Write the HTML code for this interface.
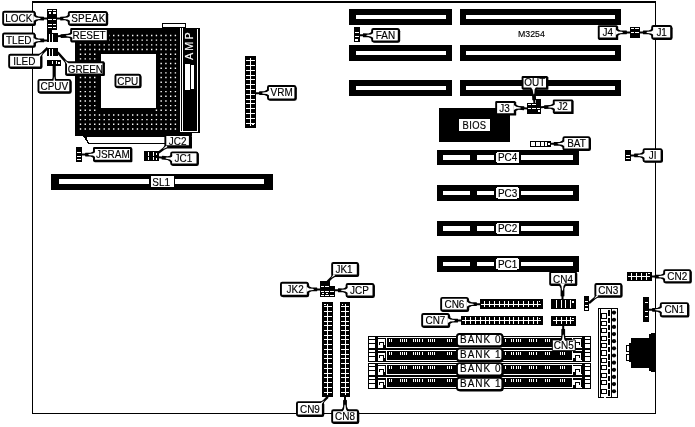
<!DOCTYPE html>
<html lang="en"><head><meta charset="utf-8"><title>M3254 motherboard layout</title>
<style>html,body{margin:0;padding:0;background:#fff}svg{display:block}text{font-family:"Liberation Sans",Arial,Helvetica,sans-serif;stroke:#000;stroke-width:0.15px}</style></head><body>
<svg width="695" height="427" viewBox="0 0 695 427" style="will-change:transform;filter:grayscale(1)">
<rect x="0" y="0" width="695" height="427" fill="#fff"/>
<g shape-rendering="crispEdges">
<rect x="32" y="1" width="624" height="2" fill="#000"/>
<rect x="32" y="1" width="1" height="413" fill="#000"/>
<rect x="655" y="1" width="1" height="413" fill="#000"/>
<rect x="32" y="413" width="624" height="1" fill="#000"/>
<rect x="349" y="9" width="103" height="16" fill="#000"/>
<rect x="356" y="15" width="90" height="4" fill="#fff"/>
<rect x="460" y="9" width="161" height="16" fill="#000"/>
<rect x="466" y="15" width="149" height="4" fill="#fff"/>
<rect x="349" y="45" width="103" height="16" fill="#000"/>
<rect x="356" y="51" width="90" height="4" fill="#fff"/>
<rect x="460" y="45" width="161" height="16" fill="#000"/>
<rect x="466" y="51" width="149" height="4" fill="#fff"/>
<rect x="349" y="80" width="103" height="16" fill="#000"/>
<rect x="356" y="86" width="90" height="4" fill="#fff"/>
<rect x="460" y="80" width="161" height="16" fill="#000"/>
<rect x="466" y="86" width="149" height="4" fill="#fff"/>
<rect x="437" y="150" width="142" height="15" fill="#000"/>
<rect x="443" y="155" width="27" height="5" fill="#fff"/>
<rect x="477" y="155" width="96" height="5" fill="#fff"/>
<rect x="494" y="151" width="27" height="13" fill="#000"/>
<rect x="496.3" y="151.8" width="22.6" height="11.2" rx="1.5" fill="#fff"/>
<rect x="437" y="185" width="142" height="16" fill="#000"/>
<rect x="443" y="191" width="27" height="4" fill="#fff"/>
<rect x="477" y="191" width="96" height="4" fill="#fff"/>
<rect x="494" y="186" width="27" height="14" fill="#000"/>
<rect x="496.3" y="187.3" width="22.6" height="11.2" rx="1.5" fill="#fff"/>
<rect x="437" y="221" width="142" height="15" fill="#000"/>
<rect x="443" y="226" width="27" height="5" fill="#fff"/>
<rect x="477" y="226" width="96" height="5" fill="#fff"/>
<rect x="494" y="222" width="27" height="13" fill="#000"/>
<rect x="496.3" y="222.8" width="22.6" height="11.2" rx="1.5" fill="#fff"/>
<rect x="437" y="256" width="142" height="16" fill="#000"/>
<rect x="443" y="262" width="27" height="4" fill="#fff"/>
<rect x="477" y="262" width="96" height="4" fill="#fff"/>
<rect x="494" y="258" width="27" height="12" fill="#000"/>
<rect x="496.3" y="258.3" width="22.6" height="11.2" rx="1.5" fill="#fff"/>
<rect x="51" y="174" width="222" height="16" fill="#000"/>
<rect x="59" y="179" width="205" height="5" fill="#fff"/>
<rect x="149" y="176" width="26" height="12" fill="#000"/>
<rect x="151" y="176" width="23" height="11" fill="#fff"/>
<rect x="439" y="108" width="71" height="34" fill="#000"/>
<rect x="459" y="119" width="31" height="12" fill="#fff"/>
<rect x="75" y="28" width="105" height="108" fill="#000"/>
<rect x="179" y="28" width="21" height="105" fill="#000"/>
<rect x="179" y="132" width="13" height="4" fill="#000"/>
<rect x="101" y="54" width="55" height="54" fill="#fff"/>
</g>
<path d="M79.8 34.8h1.4v1.4h-1.4zM79.8 39.47h1.4v1.4h-1.4zM79.8 44.15h1.4v1.4h-1.4zM79.8 48.82h1.4v1.4h-1.4zM79.8 53.5h1.4v1.4h-1.4zM79.8 58.17h1.4v1.4h-1.4zM79.8 62.85h1.4v1.4h-1.4zM79.8 67.52h1.4v1.4h-1.4zM79.8 72.2h1.4v1.4h-1.4zM79.8 76.87h1.4v1.4h-1.4zM79.8 81.55h1.4v1.4h-1.4zM79.8 86.22h1.4v1.4h-1.4zM79.8 90.9h1.4v1.4h-1.4zM79.8 95.58h1.4v1.4h-1.4zM79.8 100.25h1.4v1.4h-1.4zM79.8 104.92h1.4v1.4h-1.4zM79.8 109.6h1.4v1.4h-1.4zM79.8 114.27h1.4v1.4h-1.4zM79.8 118.95h1.4v1.4h-1.4zM79.8 123.62h1.4v1.4h-1.4zM79.8 128.3h1.4v1.4h-1.4zM84.55 34.8h1.4v1.4h-1.4zM84.55 39.47h1.4v1.4h-1.4zM84.55 44.15h1.4v1.4h-1.4zM84.55 48.82h1.4v1.4h-1.4zM84.55 53.5h1.4v1.4h-1.4zM84.55 58.17h1.4v1.4h-1.4zM84.55 62.85h1.4v1.4h-1.4zM84.55 67.52h1.4v1.4h-1.4zM84.55 72.2h1.4v1.4h-1.4zM84.55 76.87h1.4v1.4h-1.4zM84.55 81.55h1.4v1.4h-1.4zM84.55 86.22h1.4v1.4h-1.4zM84.55 90.9h1.4v1.4h-1.4zM84.55 95.58h1.4v1.4h-1.4zM84.55 100.25h1.4v1.4h-1.4zM84.55 104.92h1.4v1.4h-1.4zM84.55 109.6h1.4v1.4h-1.4zM84.55 114.27h1.4v1.4h-1.4zM84.55 118.95h1.4v1.4h-1.4zM84.55 123.62h1.4v1.4h-1.4zM84.55 128.3h1.4v1.4h-1.4zM89.29 34.8h1.4v1.4h-1.4zM89.29 39.47h1.4v1.4h-1.4zM89.29 44.15h1.4v1.4h-1.4zM89.29 48.82h1.4v1.4h-1.4zM89.29 53.5h1.4v1.4h-1.4zM89.29 58.17h1.4v1.4h-1.4zM89.29 62.85h1.4v1.4h-1.4zM89.29 67.52h1.4v1.4h-1.4zM89.29 72.2h1.4v1.4h-1.4zM89.29 76.87h1.4v1.4h-1.4zM89.29 81.55h1.4v1.4h-1.4zM89.29 86.22h1.4v1.4h-1.4zM89.29 90.9h1.4v1.4h-1.4zM89.29 95.58h1.4v1.4h-1.4zM89.29 100.25h1.4v1.4h-1.4zM89.29 104.92h1.4v1.4h-1.4zM89.29 109.6h1.4v1.4h-1.4zM89.29 114.27h1.4v1.4h-1.4zM89.29 118.95h1.4v1.4h-1.4zM89.29 123.62h1.4v1.4h-1.4zM89.29 128.3h1.4v1.4h-1.4zM94.03 34.8h1.4v1.4h-1.4zM94.03 39.47h1.4v1.4h-1.4zM94.03 44.15h1.4v1.4h-1.4zM94.03 48.82h1.4v1.4h-1.4zM94.03 53.5h1.4v1.4h-1.4zM94.03 58.17h1.4v1.4h-1.4zM94.03 62.85h1.4v1.4h-1.4zM94.03 67.52h1.4v1.4h-1.4zM94.03 72.2h1.4v1.4h-1.4zM94.03 76.87h1.4v1.4h-1.4zM94.03 81.55h1.4v1.4h-1.4zM94.03 86.22h1.4v1.4h-1.4zM94.03 90.9h1.4v1.4h-1.4zM94.03 95.58h1.4v1.4h-1.4zM94.03 100.25h1.4v1.4h-1.4zM94.03 104.92h1.4v1.4h-1.4zM94.03 109.6h1.4v1.4h-1.4zM94.03 114.27h1.4v1.4h-1.4zM94.03 118.95h1.4v1.4h-1.4zM94.03 123.62h1.4v1.4h-1.4zM94.03 128.3h1.4v1.4h-1.4zM98.78 34.8h1.4v1.4h-1.4zM98.78 39.47h1.4v1.4h-1.4zM98.78 44.15h1.4v1.4h-1.4zM98.78 48.82h1.4v1.4h-1.4zM98.78 114.27h1.4v1.4h-1.4zM98.78 118.95h1.4v1.4h-1.4zM98.78 123.62h1.4v1.4h-1.4zM98.78 128.3h1.4v1.4h-1.4zM103.52 34.8h1.4v1.4h-1.4zM103.52 39.47h1.4v1.4h-1.4zM103.52 44.15h1.4v1.4h-1.4zM103.52 48.82h1.4v1.4h-1.4zM103.52 114.27h1.4v1.4h-1.4zM103.52 118.95h1.4v1.4h-1.4zM103.52 123.62h1.4v1.4h-1.4zM103.52 128.3h1.4v1.4h-1.4zM108.27 34.8h1.4v1.4h-1.4zM108.27 39.47h1.4v1.4h-1.4zM108.27 44.15h1.4v1.4h-1.4zM108.27 48.82h1.4v1.4h-1.4zM108.27 114.27h1.4v1.4h-1.4zM108.27 118.95h1.4v1.4h-1.4zM108.27 123.62h1.4v1.4h-1.4zM108.27 128.3h1.4v1.4h-1.4zM113.02 34.8h1.4v1.4h-1.4zM113.02 39.47h1.4v1.4h-1.4zM113.02 44.15h1.4v1.4h-1.4zM113.02 48.82h1.4v1.4h-1.4zM113.02 114.27h1.4v1.4h-1.4zM113.02 118.95h1.4v1.4h-1.4zM113.02 123.62h1.4v1.4h-1.4zM113.02 128.3h1.4v1.4h-1.4zM117.76 34.8h1.4v1.4h-1.4zM117.76 39.47h1.4v1.4h-1.4zM117.76 44.15h1.4v1.4h-1.4zM117.76 48.82h1.4v1.4h-1.4zM117.76 114.27h1.4v1.4h-1.4zM117.76 118.95h1.4v1.4h-1.4zM117.76 123.62h1.4v1.4h-1.4zM117.76 128.3h1.4v1.4h-1.4zM122.5 34.8h1.4v1.4h-1.4zM122.5 39.47h1.4v1.4h-1.4zM122.5 44.15h1.4v1.4h-1.4zM122.5 48.82h1.4v1.4h-1.4zM122.5 114.27h1.4v1.4h-1.4zM122.5 118.95h1.4v1.4h-1.4zM122.5 123.62h1.4v1.4h-1.4zM122.5 128.3h1.4v1.4h-1.4zM127.25 34.8h1.4v1.4h-1.4zM127.25 39.47h1.4v1.4h-1.4zM127.25 44.15h1.4v1.4h-1.4zM127.25 48.82h1.4v1.4h-1.4zM127.25 114.27h1.4v1.4h-1.4zM127.25 118.95h1.4v1.4h-1.4zM127.25 123.62h1.4v1.4h-1.4zM127.25 128.3h1.4v1.4h-1.4zM132 34.8h1.4v1.4h-1.4zM132 39.47h1.4v1.4h-1.4zM132 44.15h1.4v1.4h-1.4zM132 48.82h1.4v1.4h-1.4zM132 114.27h1.4v1.4h-1.4zM132 118.95h1.4v1.4h-1.4zM132 123.62h1.4v1.4h-1.4zM132 128.3h1.4v1.4h-1.4zM136.74 34.8h1.4v1.4h-1.4zM136.74 39.47h1.4v1.4h-1.4zM136.74 44.15h1.4v1.4h-1.4zM136.74 48.82h1.4v1.4h-1.4zM136.74 114.27h1.4v1.4h-1.4zM136.74 118.95h1.4v1.4h-1.4zM136.74 123.62h1.4v1.4h-1.4zM136.74 128.3h1.4v1.4h-1.4zM141.49 34.8h1.4v1.4h-1.4zM141.49 39.47h1.4v1.4h-1.4zM141.49 44.15h1.4v1.4h-1.4zM141.49 48.82h1.4v1.4h-1.4zM141.49 114.27h1.4v1.4h-1.4zM141.49 118.95h1.4v1.4h-1.4zM141.49 123.62h1.4v1.4h-1.4zM141.49 128.3h1.4v1.4h-1.4zM146.23 34.8h1.4v1.4h-1.4zM146.23 39.47h1.4v1.4h-1.4zM146.23 44.15h1.4v1.4h-1.4zM146.23 48.82h1.4v1.4h-1.4zM146.23 114.27h1.4v1.4h-1.4zM146.23 118.95h1.4v1.4h-1.4zM146.23 123.62h1.4v1.4h-1.4zM146.23 128.3h1.4v1.4h-1.4zM150.98 34.8h1.4v1.4h-1.4zM150.98 39.47h1.4v1.4h-1.4zM150.98 44.15h1.4v1.4h-1.4zM150.98 48.82h1.4v1.4h-1.4zM150.98 114.27h1.4v1.4h-1.4zM150.98 118.95h1.4v1.4h-1.4zM150.98 123.62h1.4v1.4h-1.4zM150.98 128.3h1.4v1.4h-1.4zM155.72 34.8h1.4v1.4h-1.4zM155.72 39.47h1.4v1.4h-1.4zM155.72 44.15h1.4v1.4h-1.4zM155.72 48.82h1.4v1.4h-1.4zM155.72 109.6h1.4v1.4h-1.4zM155.72 114.27h1.4v1.4h-1.4zM155.72 118.95h1.4v1.4h-1.4zM155.72 123.62h1.4v1.4h-1.4zM155.72 128.3h1.4v1.4h-1.4zM160.47 34.8h1.4v1.4h-1.4zM160.47 39.47h1.4v1.4h-1.4zM160.47 44.15h1.4v1.4h-1.4zM160.47 48.82h1.4v1.4h-1.4zM160.47 53.5h1.4v1.4h-1.4zM160.47 58.17h1.4v1.4h-1.4zM160.47 62.85h1.4v1.4h-1.4zM160.47 67.52h1.4v1.4h-1.4zM160.47 72.2h1.4v1.4h-1.4zM160.47 76.87h1.4v1.4h-1.4zM160.47 81.55h1.4v1.4h-1.4zM160.47 86.22h1.4v1.4h-1.4zM160.47 90.9h1.4v1.4h-1.4zM160.47 95.58h1.4v1.4h-1.4zM160.47 100.25h1.4v1.4h-1.4zM160.47 104.92h1.4v1.4h-1.4zM160.47 109.6h1.4v1.4h-1.4zM160.47 114.27h1.4v1.4h-1.4zM160.47 118.95h1.4v1.4h-1.4zM160.47 123.62h1.4v1.4h-1.4zM160.47 128.3h1.4v1.4h-1.4zM165.21 34.8h1.4v1.4h-1.4zM165.21 39.47h1.4v1.4h-1.4zM165.21 44.15h1.4v1.4h-1.4zM165.21 48.82h1.4v1.4h-1.4zM165.21 53.5h1.4v1.4h-1.4zM165.21 58.17h1.4v1.4h-1.4zM165.21 62.85h1.4v1.4h-1.4zM165.21 67.52h1.4v1.4h-1.4zM165.21 72.2h1.4v1.4h-1.4zM165.21 76.87h1.4v1.4h-1.4zM165.21 81.55h1.4v1.4h-1.4zM165.21 86.22h1.4v1.4h-1.4zM165.21 90.9h1.4v1.4h-1.4zM165.21 95.58h1.4v1.4h-1.4zM165.21 100.25h1.4v1.4h-1.4zM165.21 104.92h1.4v1.4h-1.4zM165.21 109.6h1.4v1.4h-1.4zM165.21 114.27h1.4v1.4h-1.4zM165.21 118.95h1.4v1.4h-1.4zM165.21 123.62h1.4v1.4h-1.4zM165.21 128.3h1.4v1.4h-1.4zM169.96 34.8h1.4v1.4h-1.4zM169.96 39.47h1.4v1.4h-1.4zM169.96 44.15h1.4v1.4h-1.4zM169.96 48.82h1.4v1.4h-1.4zM169.96 53.5h1.4v1.4h-1.4zM169.96 58.17h1.4v1.4h-1.4zM169.96 62.85h1.4v1.4h-1.4zM169.96 67.52h1.4v1.4h-1.4zM169.96 72.2h1.4v1.4h-1.4zM169.96 76.87h1.4v1.4h-1.4zM169.96 81.55h1.4v1.4h-1.4zM169.96 86.22h1.4v1.4h-1.4zM169.96 90.9h1.4v1.4h-1.4zM169.96 95.58h1.4v1.4h-1.4zM169.96 100.25h1.4v1.4h-1.4zM169.96 104.92h1.4v1.4h-1.4zM169.96 109.6h1.4v1.4h-1.4zM169.96 114.27h1.4v1.4h-1.4zM169.96 118.95h1.4v1.4h-1.4zM169.96 123.62h1.4v1.4h-1.4zM169.96 128.3h1.4v1.4h-1.4zM174.7 34.8h1.4v1.4h-1.4zM174.7 39.47h1.4v1.4h-1.4zM174.7 44.15h1.4v1.4h-1.4zM174.7 48.82h1.4v1.4h-1.4zM174.7 53.5h1.4v1.4h-1.4zM174.7 58.17h1.4v1.4h-1.4zM174.7 62.85h1.4v1.4h-1.4zM174.7 67.52h1.4v1.4h-1.4zM174.7 72.2h1.4v1.4h-1.4zM174.7 76.87h1.4v1.4h-1.4zM174.7 81.55h1.4v1.4h-1.4zM174.7 86.22h1.4v1.4h-1.4zM174.7 90.9h1.4v1.4h-1.4zM174.7 95.58h1.4v1.4h-1.4zM174.7 100.25h1.4v1.4h-1.4zM174.7 104.92h1.4v1.4h-1.4zM174.7 109.6h1.4v1.4h-1.4zM174.7 114.27h1.4v1.4h-1.4zM174.7 118.95h1.4v1.4h-1.4zM174.7 123.62h1.4v1.4h-1.4zM174.7 128.3h1.4v1.4h-1.4z" fill="#fff"/>
<g shape-rendering="crispEdges">
<rect x="180" y="28" width="1" height="104" fill="#fff"/>
<rect x="182" y="28" width="1" height="103" fill="#fff"/>
<rect x="197" y="29" width="1" height="103" fill="#fff"/>
<rect x="180" y="131" width="18" height="1" fill="#fff"/>
<rect x="185" y="64" width="5" height="26" fill="#fff"/>
<rect x="191" y="65" width="3" height="24" fill="#fff"/>
<rect x="162" y="23" width="24" height="5" fill="#000"/>
<rect x="163" y="24" width="22" height="3" fill="#fff"/>
<polygon points="83,136 166,136 166,143.6 88,143.6" fill="#000"/>
<polygon points="86.5,137.2 165,137.2 165,142.6 88.8,142.6" fill="#fff"/>
</g>
<text transform="translate(192.8,60) rotate(-90)" font-size="10.8" fill="#fff" style="stroke:#fff" letter-spacing="2.1">AMP</text>
<g shape-rendering="crispEdges">
<rect x="245" y="56" width="11" height="72" fill="#000"/>
<rect x="250" y="58" width="1" height="68" fill="#fff"/>
<rect x="246" y="60" width="9" height="1" fill="#fff"/>
<rect x="246" y="65" width="9" height="1" fill="#fff"/>
<rect x="246" y="70" width="9" height="1" fill="#fff"/>
<rect x="246" y="75" width="9" height="1" fill="#fff"/>
<rect x="246" y="79" width="9" height="1" fill="#fff"/>
<rect x="246" y="84" width="9" height="1" fill="#fff"/>
<rect x="246" y="89" width="9" height="1" fill="#fff"/>
<rect x="246" y="94" width="9" height="1" fill="#fff"/>
<rect x="246" y="99" width="9" height="1" fill="#fff"/>
<rect x="246" y="103" width="9" height="1" fill="#fff"/>
<rect x="246" y="108" width="9" height="1" fill="#fff"/>
<rect x="246" y="113" width="9" height="1" fill="#fff"/>
<rect x="246" y="118" width="9" height="1" fill="#fff"/>
<rect x="246" y="123" width="9" height="1" fill="#fff"/>
<rect x="252" y="123" width="2" height="2" fill="#fff"/>
<rect x="322" y="302" width="11" height="95" fill="#000"/>
<rect x="327" y="304" width="1" height="91" fill="#fff"/>
<rect x="324" y="306" width="8" height="1" fill="#fff"/>
<rect x="324" y="311" width="8" height="1" fill="#fff"/>
<rect x="324" y="316" width="8" height="1" fill="#fff"/>
<rect x="324" y="321" width="8" height="1" fill="#fff"/>
<rect x="324" y="325" width="8" height="1" fill="#fff"/>
<rect x="324" y="330" width="8" height="1" fill="#fff"/>
<rect x="324" y="335" width="8" height="1" fill="#fff"/>
<rect x="324" y="339" width="8" height="1" fill="#fff"/>
<rect x="324" y="344" width="8" height="1" fill="#fff"/>
<rect x="324" y="349" width="8" height="1" fill="#fff"/>
<rect x="324" y="354" width="8" height="1" fill="#fff"/>
<rect x="324" y="358" width="8" height="1" fill="#fff"/>
<rect x="324" y="363" width="8" height="1" fill="#fff"/>
<rect x="324" y="368" width="8" height="1" fill="#fff"/>
<rect x="324" y="373" width="8" height="1" fill="#fff"/>
<rect x="324" y="377" width="8" height="1" fill="#fff"/>
<rect x="324" y="382" width="8" height="1" fill="#fff"/>
<rect x="324" y="387" width="8" height="1" fill="#fff"/>
<rect x="324" y="392" width="8" height="1" fill="#fff"/>
<rect x="340" y="302" width="10" height="95" fill="#000"/>
<rect x="345" y="304" width="1" height="91" fill="#fff"/>
<rect x="341" y="306" width="8" height="1" fill="#fff"/>
<rect x="341" y="311" width="8" height="1" fill="#fff"/>
<rect x="341" y="316" width="8" height="1" fill="#fff"/>
<rect x="341" y="321" width="8" height="1" fill="#fff"/>
<rect x="341" y="325" width="8" height="1" fill="#fff"/>
<rect x="341" y="330" width="8" height="1" fill="#fff"/>
<rect x="341" y="335" width="8" height="1" fill="#fff"/>
<rect x="341" y="339" width="8" height="1" fill="#fff"/>
<rect x="341" y="344" width="8" height="1" fill="#fff"/>
<rect x="341" y="349" width="8" height="1" fill="#fff"/>
<rect x="341" y="354" width="8" height="1" fill="#fff"/>
<rect x="341" y="358" width="8" height="1" fill="#fff"/>
<rect x="341" y="363" width="8" height="1" fill="#fff"/>
<rect x="341" y="368" width="8" height="1" fill="#fff"/>
<rect x="341" y="373" width="8" height="1" fill="#fff"/>
<rect x="341" y="377" width="8" height="1" fill="#fff"/>
<rect x="341" y="382" width="8" height="1" fill="#fff"/>
<rect x="341" y="387" width="8" height="1" fill="#fff"/>
<rect x="341" y="392" width="8" height="1" fill="#fff"/>
<rect x="324" y="304" width="2" height="1" fill="#fff"/>
<rect x="342" y="304" width="1" height="1" fill="#fff"/>
<rect x="480" y="299" width="63" height="10" fill="#000"/>
<rect x="481" y="304" width="60" height="1" fill="#fff"/>
<rect x="484" y="301" width="1" height="6" fill="#fff"/>
<rect x="489" y="301" width="1" height="6" fill="#fff"/>
<rect x="494" y="301" width="1" height="6" fill="#fff"/>
<rect x="499" y="301" width="1" height="6" fill="#fff"/>
<rect x="504" y="301" width="1" height="6" fill="#fff"/>
<rect x="508" y="301" width="1" height="6" fill="#fff"/>
<rect x="513" y="301" width="1" height="6" fill="#fff"/>
<rect x="518" y="301" width="1" height="6" fill="#fff"/>
<rect x="523" y="301" width="1" height="6" fill="#fff"/>
<rect x="528" y="301" width="1" height="6" fill="#fff"/>
<rect x="533" y="301" width="1" height="6" fill="#fff"/>
<rect x="537" y="301" width="1" height="6" fill="#fff"/>
<rect x="461" y="316" width="82" height="9" fill="#000"/>
<rect x="462" y="320" width="79" height="1" fill="#fff"/>
<rect x="465" y="317" width="1" height="7" fill="#fff"/>
<rect x="470" y="317" width="1" height="7" fill="#fff"/>
<rect x="475" y="317" width="1" height="7" fill="#fff"/>
<rect x="480" y="317" width="1" height="7" fill="#fff"/>
<rect x="485" y="317" width="1" height="7" fill="#fff"/>
<rect x="489" y="317" width="1" height="7" fill="#fff"/>
<rect x="494" y="317" width="1" height="7" fill="#fff"/>
<rect x="499" y="317" width="1" height="7" fill="#fff"/>
<rect x="504" y="317" width="1" height="7" fill="#fff"/>
<rect x="509" y="317" width="1" height="7" fill="#fff"/>
<rect x="513" y="317" width="1" height="7" fill="#fff"/>
<rect x="518" y="317" width="1" height="7" fill="#fff"/>
<rect x="523" y="317" width="1" height="7" fill="#fff"/>
<rect x="528" y="317" width="1" height="7" fill="#fff"/>
<rect x="533" y="317" width="1" height="7" fill="#fff"/>
<rect x="537" y="317" width="1" height="7" fill="#fff"/>
<rect x="539" y="301" width="1" height="1" fill="#fff"/>
<rect x="539" y="318" width="1" height="1" fill="#fff"/>
<rect x="551" y="299" width="25" height="10" fill="#000"/>
<rect x="556" y="300" width="1" height="8" fill="#fff"/>
<rect x="561" y="300" width="1" height="8" fill="#fff"/>
<rect x="565" y="300" width="1" height="8" fill="#fff"/>
<rect x="570" y="300" width="1" height="8" fill="#fff"/>
<rect x="572" y="301" width="2" height="2" fill="#fff"/>
<rect x="551" y="316" width="25" height="10" fill="#000"/>
<rect x="553" y="320" width="21" height="1" fill="#fff"/>
<rect x="556" y="317" width="1" height="7" fill="#fff"/>
<rect x="561" y="317" width="1" height="7" fill="#fff"/>
<rect x="566" y="317" width="1" height="7" fill="#fff"/>
<rect x="570" y="317" width="1" height="7" fill="#fff"/>
<rect x="572" y="318" width="2" height="1" fill="#fff"/>
<rect x="627" y="272" width="25" height="9" fill="#000"/>
<rect x="628" y="276" width="22" height="1" fill="#fff"/>
<rect x="631" y="273" width="1" height="7" fill="#fff"/>
<rect x="636" y="273" width="1" height="7" fill="#fff"/>
<rect x="641" y="273" width="1" height="7" fill="#fff"/>
<rect x="646" y="273" width="1" height="7" fill="#fff"/>
<rect x="648" y="273" width="2" height="1" fill="#fff"/>
<rect x="643" y="297" width="6" height="25" fill="#000"/>
<rect x="645" y="302" width="3" height="1" fill="#fff"/>
<rect x="645" y="311" width="3" height="1" fill="#fff"/>
<rect x="645" y="316" width="3" height="1" fill="#fff"/>
<rect x="76" y="147" width="6" height="15" fill="#000"/>
<rect x="77" y="152" width="4" height="1" fill="#fff"/>
<rect x="77" y="156" width="4" height="1" fill="#fff"/>
<rect x="77" y="159" width="4" height="1" fill="#fff"/>
<rect x="354" y="27" width="6" height="15" fill="#000"/>
<rect x="355" y="32" width="4" height="1" fill="#fff"/>
<rect x="355" y="36" width="4" height="1" fill="#fff"/>
<rect x="355" y="39" width="3" height="2" fill="#fff"/>
<rect x="584" y="296" width="5" height="15" fill="#000"/>
<rect x="585" y="301" width="3" height="1" fill="#fff"/>
<rect x="585" y="305" width="3" height="1" fill="#fff"/>
<rect x="585" y="308" width="3" height="2" fill="#fff"/>
<rect x="625" y="150" width="6" height="11" fill="#000"/>
<rect x="626" y="155" width="4" height="1" fill="#fff"/>
<rect x="626" y="158" width="4" height="1" fill="#fff"/>
<rect x="144" y="151" width="15" height="10" fill="#000"/>
<rect x="148" y="152" width="1" height="4" fill="#fff"/>
<rect x="148" y="157" width="1" height="3" fill="#fff"/>
<rect x="153" y="152" width="1" height="4" fill="#fff"/>
<rect x="153" y="157" width="1" height="3" fill="#fff"/>
<rect x="156" y="153" width="1" height="2" fill="#fff"/>
<rect x="156" y="158" width="1" height="2" fill="#fff"/>
<rect x="530" y="141" width="21" height="6" fill="#000"/>
<rect x="531" y="142" width="4" height="4" fill="#fff"/>
<rect x="536" y="142" width="4" height="4" fill="#fff"/>
<rect x="541" y="142" width="3" height="4" fill="#fff"/>
<rect x="545" y="142" width="2" height="4" fill="#fff"/>
<rect x="548" y="143" width="2" height="2" fill="#fff"/>
<rect x="630" y="27" width="10" height="11" fill="#000"/>
<rect x="631" y="28" width="3" height="1" fill="#fff"/>
<rect x="635" y="28" width="4" height="1" fill="#fff"/>
<rect x="631" y="32" width="3" height="1" fill="#fff"/>
<rect x="635" y="32" width="4" height="1" fill="#fff"/>
<rect x="527" y="103" width="14" height="11" fill="#000"/>
<rect x="536" y="99" width="5" height="5" fill="#000"/>
<rect x="528" y="104" width="3" height="1" fill="#fff"/>
<rect x="532" y="104" width="4" height="1" fill="#fff"/>
<rect x="528" y="108" width="3" height="1" fill="#fff"/>
<rect x="532" y="108" width="4" height="1" fill="#fff"/>
<rect x="537" y="108" width="3" height="1" fill="#fff"/>
<rect x="538" y="110" width="2" height="2" fill="#fff"/>
<rect x="320" y="281" width="10" height="16" fill="#000"/>
<rect x="330" y="286" width="5" height="11" fill="#000"/>
<rect x="321" y="286" width="3" height="1" fill="#fff"/>
<rect x="325" y="286" width="4" height="1" fill="#fff"/>
<rect x="321" y="291" width="3" height="1" fill="#fff"/>
<rect x="325" y="291" width="4" height="1" fill="#fff"/>
<rect x="330" y="291" width="4" height="1" fill="#fff"/>
<rect x="321" y="295" width="3" height="1" fill="#fff"/>
<rect x="325" y="295" width="4" height="1" fill="#fff"/>
<rect x="330" y="295" width="4" height="1" fill="#fff"/>
<rect x="322" y="293" width="2" height="1" fill="#fff"/>
<rect x="326" y="293" width="2" height="1" fill="#fff"/>
<rect x="47" y="9" width="10" height="21" fill="#000"/>
<rect x="48" y="10" width="4" height="1" fill="#fff"/>
<rect x="49" y="12" width="2" height="2" fill="#fff"/>
<rect x="48" y="19" width="4" height="1" fill="#fff"/>
<rect x="48" y="24" width="4" height="1" fill="#fff"/>
<rect x="48" y="27" width="4" height="1" fill="#fff"/>
<rect x="53" y="10" width="3" height="1" fill="#fff"/>
<rect x="53" y="12" width="3" height="2" fill="#fff"/>
<rect x="53" y="19" width="3" height="1" fill="#fff"/>
<rect x="53" y="24" width="3" height="1" fill="#fff"/>
<rect x="53" y="27" width="3" height="1" fill="#fff"/>
<rect x="47" y="30" width="5" height="3" fill="#000"/>
<rect x="47" y="33" width="11" height="9" fill="#000"/>
<rect x="49" y="34" width="1" height="8" fill="#fff"/>
<rect x="52" y="34" width="1" height="8" fill="#fff"/>
<rect x="47" y="48" width="11" height="8" fill="#000"/>
<rect x="49" y="49" width="1" height="7" fill="#fff"/>
<rect x="52" y="49" width="1" height="7" fill="#fff"/>
<rect x="47" y="60" width="14" height="6" fill="#000"/>
<rect x="52" y="61" width="1" height="3" fill="#fff"/>
<rect x="56" y="61" width="1" height="3" fill="#fff"/>
<rect x="58" y="62" width="2" height="2" fill="#fff"/>
<rect x="598" y="308" width="20" height="90" fill="#000"/>
<rect x="599" y="309" width="18" height="88" fill="#fff"/>
<rect x="600" y="309" width="1" height="88" fill="#000"/>
<rect x="611" y="309" width="1" height="88" fill="#000"/>
<rect x="601" y="313" width="6" height="6" fill="#000"/>
<rect x="602" y="314" width="4" height="4" fill="#fff"/>
<rect x="601" y="321" width="6" height="5" fill="#000"/>
<rect x="602" y="322" width="4" height="3" fill="#fff"/>
<rect x="601" y="328" width="6" height="5" fill="#000"/>
<rect x="602" y="329" width="4" height="3" fill="#fff"/>
<rect x="601" y="336" width="6" height="5" fill="#000"/>
<rect x="602" y="337" width="4" height="3" fill="#fff"/>
<rect x="601" y="343" width="6" height="5" fill="#000"/>
<rect x="602" y="344" width="4" height="3" fill="#fff"/>
<rect x="601" y="350" width="6" height="6" fill="#000"/>
<rect x="602" y="351" width="4" height="4" fill="#fff"/>
<rect x="601" y="358" width="6" height="5" fill="#000"/>
<rect x="602" y="359" width="4" height="3" fill="#fff"/>
<rect x="601" y="365" width="6" height="5" fill="#000"/>
<rect x="602" y="366" width="4" height="3" fill="#fff"/>
<rect x="601" y="373" width="6" height="5" fill="#000"/>
<rect x="602" y="374" width="4" height="3" fill="#fff"/>
<rect x="601" y="380" width="6" height="5" fill="#000"/>
<rect x="602" y="381" width="4" height="3" fill="#fff"/>
<rect x="601" y="389" width="6" height="5" fill="#000"/>
<rect x="602" y="390" width="4" height="3" fill="#fff"/>
<rect x="608" y="310" width="2" height="6" fill="#000"/>
<rect x="608" y="318" width="2" height="5" fill="#000"/>
<rect x="608" y="325" width="2" height="5" fill="#000"/>
<rect x="608" y="332" width="2" height="6" fill="#000"/>
<rect x="608" y="339" width="2" height="6" fill="#000"/>
<rect x="608" y="347" width="2" height="5" fill="#000"/>
<rect x="608" y="354" width="2" height="6" fill="#000"/>
<rect x="608" y="361" width="2" height="6" fill="#000"/>
<rect x="608" y="369" width="2" height="5" fill="#000"/>
<rect x="608" y="376" width="2" height="5" fill="#000"/>
<rect x="608" y="383" width="2" height="6" fill="#000"/>
<rect x="608" y="390" width="2" height="6" fill="#000"/>
<rect x="602" y="308" width="2" height="2" fill="#fff"/>
<polygon points="601.5,308 602.8,309.9 604,308" fill="#000"/>
<rect x="604" y="396" width="2" height="2" fill="#fff"/>
</g>
<circle cx="614" cy="312.6" r="2.1" fill="#000"/>
<rect x="612" y="312" width="2" height="1.2" fill="#000"/>
<circle cx="614" cy="319.75" r="2.1" fill="#000"/>
<rect x="612" y="319.15" width="2" height="1.2" fill="#000"/>
<circle cx="614" cy="326.9" r="2.1" fill="#000"/>
<rect x="612" y="326.3" width="2" height="1.2" fill="#000"/>
<circle cx="614" cy="334.05" r="2.1" fill="#000"/>
<rect x="612" y="333.45" width="2" height="1.2" fill="#000"/>
<circle cx="614" cy="341.2" r="2.1" fill="#000"/>
<rect x="612" y="340.6" width="2" height="1.2" fill="#000"/>
<circle cx="614" cy="348.35" r="2.1" fill="#000"/>
<rect x="612" y="347.75" width="2" height="1.2" fill="#000"/>
<circle cx="614" cy="355.5" r="2.1" fill="#000"/>
<rect x="612" y="354.9" width="2" height="1.2" fill="#000"/>
<circle cx="614" cy="362.65" r="2.1" fill="#000"/>
<rect x="612" y="362.05" width="2" height="1.2" fill="#000"/>
<circle cx="614" cy="369.8" r="2.1" fill="#000"/>
<rect x="612" y="369.2" width="2" height="1.2" fill="#000"/>
<circle cx="614" cy="376.95" r="2.1" fill="#000"/>
<rect x="612" y="376.35" width="2" height="1.2" fill="#000"/>
<circle cx="614" cy="384.1" r="2.1" fill="#000"/>
<rect x="612" y="383.5" width="2" height="1.2" fill="#000"/>
<circle cx="614" cy="391.25" r="2.1" fill="#000"/>
<rect x="612" y="390.65" width="2" height="1.2" fill="#000"/>
<g shape-rendering="crispEdges">
<rect x="631" y="338" width="20" height="30" fill="#000"/>
<rect x="651" y="333" width="5" height="39" fill="#000"/>
<rect x="649" y="334" width="2" height="37" fill="#000"/>
<rect x="629" y="343" width="2" height="19" fill="#000"/>
<rect x="626" y="345" width="4" height="7" fill="#000"/>
<rect x="627" y="346" width="2" height="5" fill="#fff"/>
<rect x="626" y="354" width="4" height="7" fill="#000"/>
<rect x="627" y="355" width="2" height="5" fill="#fff"/>
<rect x="368" y="336" width="223" height="13" fill="#000"/>
<rect x="378" y="337" width="204" height="1" fill="#fff"/>
<rect x="386" y="347" width="196" height="1" fill="#fff"/>
<rect x="369" y="337" width="6" height="2" fill="#fff"/>
<rect x="369" y="340" width="6" height="3" fill="#fff"/>
<rect x="369" y="344" width="6" height="4" fill="#fff"/>
<rect x="378" y="339" width="8" height="9" fill="#fff"/>
<rect x="379" y="342" width="5" height="1" fill="#000"/>
<rect x="379" y="343" width="1" height="2" fill="#000"/>
<rect x="383" y="343" width="1" height="5" fill="#000"/>
<rect x="384" y="345" width="2" height="3" fill="#000"/>
<rect x="585" y="337" width="5" height="2" fill="#fff"/>
<rect x="585" y="340" width="5" height="3" fill="#fff"/>
<rect x="585" y="344" width="5" height="4" fill="#fff"/>
<rect x="573" y="339" width="8" height="9" fill="#fff"/>
<rect x="575" y="342" width="5" height="1" fill="#000"/>
<rect x="579" y="343" width="1" height="2" fill="#000"/>
<rect x="575" y="343" width="1" height="5" fill="#000"/>
<rect x="573" y="345" width="2" height="3" fill="#000"/>
<rect x="385" y="338" width="1" height="10" fill="#000"/>
<rect x="386" y="338" width="1" height="10" fill="#fff"/>
<rect x="572" y="338" width="1" height="10" fill="#fff"/>
<rect x="389" y="339" width="1" height="3" fill="#fff"/>
<rect x="391" y="339" width="1" height="3" fill="#fff"/>
<rect x="400" y="339" width="1" height="3" fill="#fff"/>
<rect x="402" y="339" width="1" height="3" fill="#fff"/>
<rect x="404" y="339" width="1" height="3" fill="#fff"/>
<rect x="406" y="339" width="1" height="3" fill="#fff"/>
<rect x="413" y="339" width="1" height="3" fill="#fff"/>
<rect x="415" y="339" width="1" height="3" fill="#fff"/>
<rect x="417" y="339" width="1" height="3" fill="#fff"/>
<rect x="419" y="339" width="1" height="3" fill="#fff"/>
<rect x="422" y="339" width="1" height="3" fill="#fff"/>
<rect x="428" y="339" width="1" height="3" fill="#fff"/>
<rect x="430" y="339" width="1" height="3" fill="#fff"/>
<rect x="432" y="339" width="1" height="3" fill="#fff"/>
<rect x="434" y="339" width="1" height="3" fill="#fff"/>
<rect x="447" y="339" width="1" height="3" fill="#fff"/>
<rect x="449" y="339" width="1" height="3" fill="#fff"/>
<rect x="451" y="339" width="1" height="3" fill="#fff"/>
<rect x="505" y="339" width="1" height="3" fill="#fff"/>
<rect x="511" y="339" width="1" height="3" fill="#fff"/>
<rect x="513" y="339" width="1" height="3" fill="#fff"/>
<rect x="516" y="339" width="1" height="3" fill="#fff"/>
<rect x="518" y="339" width="1" height="3" fill="#fff"/>
<rect x="520" y="339" width="1" height="3" fill="#fff"/>
<rect x="529" y="339" width="1" height="3" fill="#fff"/>
<rect x="531" y="339" width="1" height="3" fill="#fff"/>
<rect x="533" y="339" width="1" height="3" fill="#fff"/>
<rect x="536" y="339" width="1" height="3" fill="#fff"/>
<rect x="545" y="339" width="1" height="3" fill="#fff"/>
<rect x="547" y="339" width="1" height="3" fill="#fff"/>
<rect x="549" y="339" width="1" height="3" fill="#fff"/>
<rect x="560" y="339" width="1" height="3" fill="#fff"/>
<rect x="562" y="339" width="1" height="3" fill="#fff"/>
<rect x="564" y="339" width="1" height="3" fill="#fff"/>
<rect x="368" y="349" width="223" height="13" fill="#000"/>
<rect x="378" y="350" width="204" height="1" fill="#fff"/>
<rect x="386" y="360" width="196" height="1" fill="#fff"/>
<rect x="369" y="350" width="6" height="2" fill="#fff"/>
<rect x="369" y="353" width="6" height="3" fill="#fff"/>
<rect x="369" y="357" width="6" height="4" fill="#fff"/>
<rect x="378" y="353" width="8" height="8" fill="#fff"/>
<rect x="379" y="355" width="5" height="1" fill="#000"/>
<rect x="379" y="356" width="1" height="2" fill="#000"/>
<rect x="383" y="356" width="1" height="5" fill="#000"/>
<rect x="384" y="358" width="2" height="3" fill="#000"/>
<rect x="585" y="350" width="5" height="2" fill="#fff"/>
<rect x="585" y="353" width="5" height="3" fill="#fff"/>
<rect x="585" y="357" width="5" height="4" fill="#fff"/>
<rect x="573" y="353" width="8" height="8" fill="#fff"/>
<rect x="575" y="355" width="5" height="1" fill="#000"/>
<rect x="579" y="356" width="1" height="2" fill="#000"/>
<rect x="575" y="356" width="1" height="5" fill="#000"/>
<rect x="573" y="358" width="2" height="3" fill="#000"/>
<rect x="385" y="351" width="1" height="10" fill="#000"/>
<rect x="386" y="351" width="1" height="10" fill="#fff"/>
<rect x="572" y="351" width="1" height="10" fill="#fff"/>
<rect x="389" y="352" width="1" height="3" fill="#fff"/>
<rect x="391" y="352" width="1" height="3" fill="#fff"/>
<rect x="400" y="352" width="1" height="3" fill="#fff"/>
<rect x="402" y="352" width="1" height="3" fill="#fff"/>
<rect x="404" y="352" width="1" height="3" fill="#fff"/>
<rect x="406" y="352" width="1" height="3" fill="#fff"/>
<rect x="413" y="352" width="1" height="3" fill="#fff"/>
<rect x="415" y="352" width="1" height="3" fill="#fff"/>
<rect x="417" y="352" width="1" height="3" fill="#fff"/>
<rect x="419" y="352" width="1" height="3" fill="#fff"/>
<rect x="422" y="352" width="1" height="3" fill="#fff"/>
<rect x="428" y="352" width="1" height="3" fill="#fff"/>
<rect x="430" y="352" width="1" height="3" fill="#fff"/>
<rect x="432" y="352" width="1" height="3" fill="#fff"/>
<rect x="434" y="352" width="1" height="3" fill="#fff"/>
<rect x="447" y="352" width="1" height="3" fill="#fff"/>
<rect x="449" y="352" width="1" height="3" fill="#fff"/>
<rect x="451" y="352" width="1" height="3" fill="#fff"/>
<rect x="505" y="352" width="1" height="3" fill="#fff"/>
<rect x="511" y="352" width="1" height="3" fill="#fff"/>
<rect x="513" y="352" width="1" height="3" fill="#fff"/>
<rect x="516" y="352" width="1" height="3" fill="#fff"/>
<rect x="518" y="352" width="1" height="3" fill="#fff"/>
<rect x="520" y="352" width="1" height="3" fill="#fff"/>
<rect x="529" y="352" width="1" height="3" fill="#fff"/>
<rect x="531" y="352" width="1" height="3" fill="#fff"/>
<rect x="533" y="352" width="1" height="3" fill="#fff"/>
<rect x="536" y="352" width="1" height="3" fill="#fff"/>
<rect x="545" y="352" width="1" height="3" fill="#fff"/>
<rect x="547" y="352" width="1" height="3" fill="#fff"/>
<rect x="549" y="352" width="1" height="3" fill="#fff"/>
<rect x="560" y="352" width="1" height="3" fill="#fff"/>
<rect x="562" y="352" width="1" height="3" fill="#fff"/>
<rect x="564" y="352" width="1" height="3" fill="#fff"/>
<rect x="368" y="363" width="223" height="13" fill="#000"/>
<rect x="378" y="364" width="204" height="1" fill="#fff"/>
<rect x="386" y="374" width="196" height="1" fill="#fff"/>
<rect x="369" y="364" width="6" height="2" fill="#fff"/>
<rect x="369" y="367" width="6" height="3" fill="#fff"/>
<rect x="369" y="371" width="6" height="4" fill="#fff"/>
<rect x="378" y="366" width="8" height="9" fill="#fff"/>
<rect x="379" y="369" width="5" height="1" fill="#000"/>
<rect x="379" y="370" width="1" height="2" fill="#000"/>
<rect x="383" y="370" width="1" height="5" fill="#000"/>
<rect x="384" y="372" width="2" height="3" fill="#000"/>
<rect x="585" y="364" width="5" height="2" fill="#fff"/>
<rect x="585" y="367" width="5" height="3" fill="#fff"/>
<rect x="585" y="371" width="5" height="4" fill="#fff"/>
<rect x="573" y="366" width="8" height="9" fill="#fff"/>
<rect x="575" y="369" width="5" height="1" fill="#000"/>
<rect x="579" y="370" width="1" height="2" fill="#000"/>
<rect x="575" y="370" width="1" height="5" fill="#000"/>
<rect x="573" y="372" width="2" height="3" fill="#000"/>
<rect x="385" y="365" width="1" height="10" fill="#000"/>
<rect x="386" y="365" width="1" height="10" fill="#fff"/>
<rect x="572" y="365" width="1" height="10" fill="#fff"/>
<rect x="389" y="366" width="1" height="3" fill="#fff"/>
<rect x="391" y="366" width="1" height="3" fill="#fff"/>
<rect x="400" y="366" width="1" height="3" fill="#fff"/>
<rect x="402" y="366" width="1" height="3" fill="#fff"/>
<rect x="404" y="366" width="1" height="3" fill="#fff"/>
<rect x="406" y="366" width="1" height="3" fill="#fff"/>
<rect x="413" y="366" width="1" height="3" fill="#fff"/>
<rect x="415" y="366" width="1" height="3" fill="#fff"/>
<rect x="417" y="366" width="1" height="3" fill="#fff"/>
<rect x="419" y="366" width="1" height="3" fill="#fff"/>
<rect x="422" y="366" width="1" height="3" fill="#fff"/>
<rect x="428" y="366" width="1" height="3" fill="#fff"/>
<rect x="430" y="366" width="1" height="3" fill="#fff"/>
<rect x="432" y="366" width="1" height="3" fill="#fff"/>
<rect x="434" y="366" width="1" height="3" fill="#fff"/>
<rect x="447" y="366" width="1" height="3" fill="#fff"/>
<rect x="449" y="366" width="1" height="3" fill="#fff"/>
<rect x="451" y="366" width="1" height="3" fill="#fff"/>
<rect x="505" y="366" width="1" height="3" fill="#fff"/>
<rect x="511" y="366" width="1" height="3" fill="#fff"/>
<rect x="513" y="366" width="1" height="3" fill="#fff"/>
<rect x="516" y="366" width="1" height="3" fill="#fff"/>
<rect x="518" y="366" width="1" height="3" fill="#fff"/>
<rect x="520" y="366" width="1" height="3" fill="#fff"/>
<rect x="529" y="366" width="1" height="3" fill="#fff"/>
<rect x="531" y="366" width="1" height="3" fill="#fff"/>
<rect x="533" y="366" width="1" height="3" fill="#fff"/>
<rect x="536" y="366" width="1" height="3" fill="#fff"/>
<rect x="545" y="366" width="1" height="3" fill="#fff"/>
<rect x="547" y="366" width="1" height="3" fill="#fff"/>
<rect x="549" y="366" width="1" height="3" fill="#fff"/>
<rect x="560" y="366" width="1" height="3" fill="#fff"/>
<rect x="562" y="366" width="1" height="3" fill="#fff"/>
<rect x="564" y="366" width="1" height="3" fill="#fff"/>
<rect x="368" y="376" width="223" height="13" fill="#000"/>
<rect x="378" y="377" width="204" height="1" fill="#fff"/>
<rect x="386" y="387" width="196" height="1" fill="#fff"/>
<rect x="369" y="377" width="6" height="2" fill="#fff"/>
<rect x="369" y="380" width="6" height="3" fill="#fff"/>
<rect x="369" y="384" width="6" height="4" fill="#fff"/>
<rect x="378" y="380" width="8" height="8" fill="#fff"/>
<rect x="379" y="382" width="5" height="1" fill="#000"/>
<rect x="379" y="383" width="1" height="2" fill="#000"/>
<rect x="383" y="383" width="1" height="5" fill="#000"/>
<rect x="384" y="385" width="2" height="3" fill="#000"/>
<rect x="585" y="377" width="5" height="2" fill="#fff"/>
<rect x="585" y="380" width="5" height="3" fill="#fff"/>
<rect x="585" y="384" width="5" height="4" fill="#fff"/>
<rect x="573" y="380" width="8" height="8" fill="#fff"/>
<rect x="575" y="382" width="5" height="1" fill="#000"/>
<rect x="579" y="383" width="1" height="2" fill="#000"/>
<rect x="575" y="383" width="1" height="5" fill="#000"/>
<rect x="573" y="385" width="2" height="3" fill="#000"/>
<rect x="385" y="378" width="1" height="10" fill="#000"/>
<rect x="386" y="378" width="1" height="10" fill="#fff"/>
<rect x="572" y="378" width="1" height="10" fill="#fff"/>
<rect x="389" y="379" width="1" height="3" fill="#fff"/>
<rect x="391" y="379" width="1" height="3" fill="#fff"/>
<rect x="400" y="379" width="1" height="3" fill="#fff"/>
<rect x="402" y="379" width="1" height="3" fill="#fff"/>
<rect x="404" y="379" width="1" height="3" fill="#fff"/>
<rect x="406" y="379" width="1" height="3" fill="#fff"/>
<rect x="413" y="379" width="1" height="3" fill="#fff"/>
<rect x="415" y="379" width="1" height="3" fill="#fff"/>
<rect x="417" y="379" width="1" height="3" fill="#fff"/>
<rect x="419" y="379" width="1" height="3" fill="#fff"/>
<rect x="422" y="379" width="1" height="3" fill="#fff"/>
<rect x="428" y="379" width="1" height="3" fill="#fff"/>
<rect x="430" y="379" width="1" height="3" fill="#fff"/>
<rect x="432" y="379" width="1" height="3" fill="#fff"/>
<rect x="434" y="379" width="1" height="3" fill="#fff"/>
<rect x="447" y="379" width="1" height="3" fill="#fff"/>
<rect x="449" y="379" width="1" height="3" fill="#fff"/>
<rect x="451" y="379" width="1" height="3" fill="#fff"/>
<rect x="505" y="379" width="1" height="3" fill="#fff"/>
<rect x="511" y="379" width="1" height="3" fill="#fff"/>
<rect x="513" y="379" width="1" height="3" fill="#fff"/>
<rect x="516" y="379" width="1" height="3" fill="#fff"/>
<rect x="518" y="379" width="1" height="3" fill="#fff"/>
<rect x="520" y="379" width="1" height="3" fill="#fff"/>
<rect x="529" y="379" width="1" height="3" fill="#fff"/>
<rect x="531" y="379" width="1" height="3" fill="#fff"/>
<rect x="533" y="379" width="1" height="3" fill="#fff"/>
<rect x="536" y="379" width="1" height="3" fill="#fff"/>
<rect x="545" y="379" width="1" height="3" fill="#fff"/>
<rect x="547" y="379" width="1" height="3" fill="#fff"/>
<rect x="549" y="379" width="1" height="3" fill="#fff"/>
<rect x="560" y="379" width="1" height="3" fill="#fff"/>
<rect x="562" y="379" width="1" height="3" fill="#fff"/>
<rect x="564" y="379" width="1" height="3" fill="#fff"/>
</g>
<rect x="3.2" y="11.8" width="32.8" height="14.2" rx="2.2" fill="#000"/>
<rect x="3.15" y="11.75" width="31.4" height="12.8" rx="1.25" fill="#fff" stroke="#000" stroke-width="1.9"/>
<polygon points="34.33,22.69 36.75,21.13 38.57,20.36 43.77,20.44 44.18,19.55 47.18,19.6 47.22,17.6 44.22,17.55 43.83,16.64 38.63,16.56 36.84,15.73 34.47,14.09" fill="#000"/>
<polygon points="33.36,20.97 35.98,19.41 39.79,19.03 41,18.5 39.81,17.93 36.02,17.41 33.44,15.77" fill="#fff"/>
<text transform="translate(18.85,21.94) scale(0.94,1)" font-size="10.6" text-anchor="middle" fill="#000">LOCK</text>
<rect x="68.8" y="12" width="39.4" height="14" rx="2.2" fill="#000"/>
<rect x="68.75" y="11.95" width="38" height="12.6" rx="1.25" fill="#fff" stroke="#000" stroke-width="1.9"/>
<polygon points="69.33,14.09 66.95,15.73 65.17,16.56 60.37,16.64 59.98,17.55 56.98,17.6 57.02,19.6 60.02,19.55 60.43,20.44 65.23,20.36 67.05,21.13 69.47,22.69" fill="#000"/>
<polygon points="70.35,15.77 67.78,17.41 63.99,17.93 62.8,18.5 64.01,19.03 67.82,19.41 70.44,20.97" fill="#fff"/>
<text transform="translate(88.35,22.04) scale(0.94,1)" font-size="10.6" text-anchor="middle" fill="#000" letter-spacing="0.25">SPEAK</text>
<rect x="3.1" y="33.6" width="32.8" height="14.2" rx="2.2" fill="#000"/>
<rect x="3.05" y="33.55" width="31.4" height="12.8" rx="1.25" fill="#fff" stroke="#000" stroke-width="1.9"/>
<polygon points="34.3,44.7 36.7,43.1 38.5,42.3 44,42.3 44.4,41.4 47.4,41.4 47.4,39.4 44.4,39.4 44,38.5 38.5,38.5 36.7,37.7 34.3,36.1" fill="#000"/>
<polygon points="33.3,43 35.9,41.4 39.7,40.95 40.9,40.4 39.7,39.85 35.9,39.4 33.3,37.8" fill="#fff"/>
<text transform="translate(18.75,43.74) scale(0.94,1)" font-size="10.6" text-anchor="middle" fill="#000">TLED</text>
<rect x="71.2" y="29" width="38" height="13.6" rx="0.5" fill="#000"/>
<rect x="71.15" y="28.95" width="36.6" height="12.2" rx="0.3" fill="#fff" stroke="#000" stroke-width="1.9"/>
<polygon points="72.02,31.27 69.69,32.97 67.92,33.85 60.72,34.16 60.35,35.07 57.36,35.2 57.44,37.2 60.44,37.07 60.88,37.95 68.08,37.64 69.92,38.37 72.38,39.86" fill="#000"/>
<polygon points="73.09,32.93 70.56,34.64 66.78,35.25 65.61,35.85 66.83,36.35 70.64,36.63 73.31,38.12" fill="#fff"/>
<text transform="translate(89.05,38.84) scale(0.94,1)" font-size="10.6" text-anchor="middle" fill="#000">RESET</text>
<rect x="9.2" y="54.8" width="33.3" height="14.1" rx="2.2" fill="#000"/>
<rect x="9.15" y="54.75" width="31.9" height="12.7" rx="1.25" fill="#fff" stroke="#000" stroke-width="1.9"/>
<polygon points="41.75,56.54 43.2,54.04 48.46,48.64 46.74,46.96 41.48,52.37 39.03,53.89" fill="#000"/>
<polygon points="40.13,56.77 43.04,52.49 38.84,55.52" fill="#fff"/>
<text transform="translate(24.3,64.89) scale(0.94,1)" font-size="10.6" text-anchor="middle" fill="#000">ILED</text>
<rect x="66.1" y="62.3" width="38.8" height="13.6" rx="1" fill="#000"/>
<rect x="66.05" y="62.25" width="37.4" height="12.2" rx="0.3" fill="#fff" stroke="#000" stroke-width="1.9"/>
<polygon points="68.63,61.98 66.26,60.33 58.51,51.41 56.69,52.99 64.45,61.9 65.76,64.47" fill="#000"/>
<polygon points="68.73,63.62 64.7,60.36 67.37,64.8" fill="#fff"/>
<text transform="translate(85.35,72.74) scale(0.94,1)" font-size="10.6" text-anchor="middle" fill="#000">GREEN</text>
<rect x="38.5" y="79.9" width="33.2" height="13.8" rx="2.2" fill="#000"/>
<rect x="38.45" y="79.85" width="31.8" height="12.4" rx="1.25" fill="#fff" stroke="#000" stroke-width="1.9"/>
<polygon points="56.5,80.1 55.8,77.3 55.8,65 52.6,65 52.6,77.3 51.9,80.1" fill="#000"/>
<polygon points="55.1,81.4 54.2,76.3 53.3,81.4" fill="#fff"/>
<text transform="translate(54.35,89.84) scale(0.94,1)" font-size="10.6" text-anchor="middle" fill="#000">CPUV</text>
<rect x="115.5" y="74.8" width="26.1" height="13.4" rx="2.2" fill="#000"/>
<rect x="115.45" y="74.75" width="24.7" height="12" rx="1.25" fill="#fff" stroke="#000" stroke-width="1.9"/>
<text transform="translate(127.8,84.54) scale(0.94,1)" font-size="10.6" text-anchor="middle" fill="#000">CPU</text>
<rect x="268" y="86" width="28.8" height="14.8" rx="2.2" fill="#000"/>
<rect x="267.95" y="85.95" width="27.4" height="13.4" rx="1.25" fill="#fff" stroke="#000" stroke-width="1.9"/>
<polygon points="268.33,88.69 265.95,90.33 264.17,91.16 259.37,91.24 258.98,92.15 255.98,92.2 256.02,94.2 259.02,94.15 259.43,95.04 264.23,94.96 266.05,95.73 268.47,97.29" fill="#000"/>
<polygon points="269.35,90.37 266.78,92.01 262.99,92.53 261.8,93.1 263.01,93.63 266.82,94.01 269.44,95.57" fill="#fff"/>
<text transform="translate(281.65,96.44) scale(0.94,1)" font-size="10.6" text-anchor="middle" fill="#000">VRM</text>
<rect x="372.2" y="29" width="28" height="13.8" rx="2.2" fill="#000"/>
<rect x="372.15" y="28.95" width="26.6" height="12.4" rx="1.25" fill="#fff" stroke="#000" stroke-width="1.9"/>
<polygon points="372.67,31.11 370.25,32.67 368.43,33.44 363.23,33.36 362.82,34.25 359.82,34.2 359.78,36.2 362.78,36.25 363.17,37.16 368.37,37.24 370.16,38.07 372.53,39.71" fill="#000"/>
<polygon points="373.64,32.83 371.02,34.39 367.21,34.77 366,35.3 367.19,35.87 370.98,36.39 373.56,38.03" fill="#fff"/>
<text transform="translate(385.45,38.94) scale(0.94,1)" font-size="10.6" text-anchor="middle" fill="#000">FAN</text>
<rect x="598.8" y="26.2" width="19.4" height="13.8" rx="0.6" fill="#000"/>
<rect x="598.75" y="26.15" width="18" height="12.4" rx="0.3" fill="#fff" stroke="#000" stroke-width="1.9"/>
<polygon points="616.6,36.7 619,35.1 620.8,34.3 626.6,34.3 627,33.4 630,33.4 630,31.4 627,31.4 626.6,30.5 620.8,30.5 619,29.7 616.6,28.1" fill="#000"/>
<polygon points="615.6,35 618.2,33.4 622,32.95 623.2,32.4 622,31.85 618.2,31.4 615.6,29.8" fill="#fff"/>
<text transform="translate(607.75,36.14) scale(0.94,1)" font-size="10.6" text-anchor="middle" fill="#000">J4</text>
<rect x="652.2" y="26" width="20.4" height="14" rx="2.2" fill="#000"/>
<rect x="652.15" y="25.95" width="19" height="12.6" rx="1.25" fill="#fff" stroke="#000" stroke-width="1.9"/>
<polygon points="652.8,28.1 650.4,29.7 648.6,30.5 643.2,30.5 642.8,31.4 639.8,31.4 639.8,33.4 642.8,33.4 643.2,34.3 648.6,34.3 650.4,35.1 652.8,36.7" fill="#000"/>
<polygon points="653.8,29.8 651.2,31.4 647.4,31.85 646.2,32.4 647.4,32.95 651.2,33.4 653.8,35" fill="#fff"/>
<text transform="translate(661.65,36.04) scale(0.94,1)" font-size="10.6" text-anchor="middle" fill="#000">J1</text>
<rect x="522.6" y="77" width="25.8" height="12.8" rx="0.6" fill="#000"/>
<rect x="522.55" y="76.95" width="24.4" height="11.4" rx="0.3" fill="#fff" stroke="#000" stroke-width="1.9"/>
<polygon points="529.26,88.24 530.99,90.55 531.89,92.3 532.32,100.11 533.24,100.46 533.4,103.45 535.4,103.35 535.23,100.35 536.11,99.9 535.68,92.09 536.38,90.25 537.85,87.77" fill="#000"/>
<polygon points="530.91,87.14 532.65,89.65 533.3,93.42 533.92,94.59 534.4,93.36 534.64,89.54 536.1,86.86" fill="#fff"/>
<text transform="translate(534.75,86.44) scale(0.94,1)" font-size="10.6" text-anchor="middle" fill="#000">OUT</text>
<rect x="496.2" y="102" width="20" height="13.6" rx="0.6" fill="#000"/>
<rect x="496.15" y="101.95" width="18.6" height="12.2" rx="0.3" fill="#fff" stroke="#000" stroke-width="1.9"/>
<polygon points="514.39,112.05 516.86,110.58 518.7,109.87 523.91,110.13 524.35,109.25 527.35,109.4 527.45,107.4 524.45,107.25 524.1,106.33 518.89,106.07 517.13,105.18 514.82,103.47" fill="#000"/>
<polygon points="513.47,110.31 516.15,108.84 519.97,108.58 521.19,108.09 520.02,107.48 516.25,106.84 513.73,105.11" fill="#fff"/>
<text transform="translate(504.55,111.84) scale(0.94,1)" font-size="10.6" text-anchor="middle" fill="#000">J3</text>
<rect x="553.8" y="100.4" width="19.8" height="13.6" rx="0.6" fill="#000"/>
<rect x="553.75" y="100.35" width="18.4" height="12.2" rx="0.3" fill="#fff" stroke="#000" stroke-width="1.9"/>
<polygon points="554.26,102.48 551.92,104.15 550.14,105.01 544.34,105.19 543.97,106.11 540.97,106.2 541.03,108.2 544.03,108.1 544.46,108.99 550.26,108.81 552.09,109.55 554.54,111.07" fill="#000"/>
<polygon points="555.32,104.14 552.77,105.83 548.98,106.4 547.8,106.98 549.02,107.5 552.83,107.82 555.48,109.34" fill="#fff"/>
<text transform="translate(562.45,110.24) scale(0.94,1)" font-size="10.6" text-anchor="middle" fill="#000">J2</text>
<rect x="563.4" y="137.2" width="27.6" height="13.8" rx="2.2" fill="#000"/>
<rect x="563.35" y="137.15" width="26.2" height="12.4" rx="1.25" fill="#fff" stroke="#000" stroke-width="1.9"/>
<polygon points="563.8,139.5 561.4,141.1 559.6,141.9 554,141.9 553.6,142.8 550.6,142.8 550.6,144.8 553.6,144.8 554,145.7 559.6,145.7 561.4,146.5 563.8,148.1" fill="#000"/>
<polygon points="564.8,141.2 562.2,142.8 558.4,143.25 557.2,143.8 558.4,144.35 562.2,144.8 564.8,146.4" fill="#fff"/>
<text transform="translate(576.45,147.14) scale(0.94,1)" font-size="10.6" text-anchor="middle" fill="#000">BAT</text>
<rect x="166.1" y="135.9" width="25.9" height="12.5" rx="0.5" fill="#000"/>
<rect x="165.35" y="135.15" width="24.5" height="11.1" rx="0.3" fill="#fff" stroke="#000" stroke-width="1.9"/>
<polygon points="164.68,145.51 162.89,147.78 157.87,151.65 159.33,153.55 164.35,149.68 167,148.52" fill="#000"/>
<polygon points="166.32,145.51 162.83,149.34 167.42,146.94" fill="#fff"/>
<text transform="translate(177.6,144.69) scale(0.94,1)" font-size="10.6" text-anchor="middle" fill="#000">JC2</text>
<rect x="171.2" y="152.4" width="27.7" height="13.6" rx="2.2" fill="#000"/>
<rect x="171.15" y="152.35" width="26.3" height="12.2" rx="1.25" fill="#fff" stroke="#000" stroke-width="1.9"/>
<polygon points="172.28,154.42 169.71,155.74 167.83,156.33 162.19,155.69 161.69,156.54 158.71,156.21 158.49,158.19 161.47,158.53 161.77,159.47 167.41,160.11 169.11,161.1 171.31,162.96" fill="#000"/>
<polygon points="173.08,156.22 170.32,157.52 166.49,157.54 165.24,157.95 166.37,158.63 170.09,159.5 172.5,161.39" fill="#fff"/>
<text transform="translate(183.4,162.24) scale(0.94,1)" font-size="10.6" text-anchor="middle" fill="#000">JC1</text>
<rect x="94" y="148" width="38.4" height="14.2" rx="1" fill="#000"/>
<rect x="93.95" y="147.95" width="37" height="12.8" rx="0.3" fill="#fff" stroke="#000" stroke-width="1.9"/>
<polygon points="94.6,150.3 92.2,151.9 90.4,152.7 85.4,152.7 85,153.6 82,153.6 82,155.6 85,155.6 85.4,156.5 90.4,156.5 92.2,157.3 94.6,158.9" fill="#000"/>
<polygon points="95.6,152 93,153.6 89.2,154.05 88,154.6 89.2,155.15 93,155.6 95.6,157.2" fill="#fff"/>
<text transform="translate(112.85,158.14) scale(0.94,1)" font-size="10.6" text-anchor="middle" fill="#000" textLength="36" lengthAdjust="spacing">JSRAM</text>
<rect x="643.6" y="149.2" width="19.4" height="13.6" rx="2" fill="#000"/>
<rect x="643.55" y="149.15" width="18" height="12.2" rx="1.05" fill="#fff" stroke="#000" stroke-width="1.9"/>
<polygon points="644,151.1 641.6,152.7 639.8,153.5 634.4,153.5 634,154.4 631,154.4 631,156.4 634,156.4 634.4,157.3 639.8,157.3 641.6,158.1 644,159.7" fill="#000"/>
<polygon points="645,152.8 642.4,154.4 638.6,154.85 637.4,155.4 638.6,155.95 642.4,156.4 645,158" fill="#fff"/>
<text transform="translate(652.55,159.04) scale(0.94,1)" font-size="10.6" text-anchor="middle" fill="#000">JI</text>
<rect x="332.2" y="263" width="27" height="14" rx="2" fill="#000"/>
<rect x="332.15" y="262.95" width="25.6" height="12.6" rx="1.05" fill="#fff" stroke="#000" stroke-width="1.9"/>
<polygon points="332.27,274.24 330.78,276.72 326.75,280.75 328.45,282.45 332.48,278.42 334.96,276.93" fill="#000"/>
<polygon points="333.89,274.03 331.08,278.12 335.17,275.31" fill="#fff"/>
<text transform="translate(344.05,273.04) scale(0.94,1)" font-size="10.6" text-anchor="middle" fill="#000">JK1</text>
<rect x="281" y="282.8" width="28.2" height="14.4" rx="2.2" fill="#000"/>
<rect x="280.95" y="282.75" width="26.8" height="13" rx="1.25" fill="#fff" stroke="#000" stroke-width="1.9"/>
<polygon points="307.6,293.7 310,292.1 311.8,291.3 317,291.3 317.4,290.4 320.4,290.4 320.4,288.4 317.4,288.4 317,287.5 311.8,287.5 310,286.7 307.6,285.1" fill="#000"/>
<polygon points="306.6,292 309.2,290.4 313,289.95 314.2,289.4 313,288.85 309.2,288.4 306.6,286.8" fill="#fff"/>
<text transform="translate(295.15,293.04) scale(0.94,1)" font-size="10.6" text-anchor="middle" fill="#000">JK2</text>
<rect x="346.6" y="284" width="28.3" height="13.9" rx="2.2" fill="#000"/>
<rect x="346.55" y="283.95" width="26.9" height="12.5" rx="1.25" fill="#fff" stroke="#000" stroke-width="1.9"/>
<polygon points="347.27,286.11 344.85,287.67 343.03,288.44 338.23,288.36 337.82,289.25 334.82,289.2 334.78,291.2 337.78,291.25 338.17,292.16 342.97,292.24 344.75,293.07 347.13,294.71" fill="#000"/>
<polygon points="348.24,287.83 345.62,289.39 341.81,289.77 340.6,290.3 341.79,290.87 345.58,291.39 348.15,293.03" fill="#fff"/>
<text transform="translate(359.4,293.99) scale(0.94,1)" font-size="10.6" text-anchor="middle" fill="#000">JCP</text>
<rect x="550.2" y="272.2" width="27.1" height="13.8" rx="1.5" fill="#000"/>
<rect x="550.15" y="272.15" width="25.7" height="12.4" rx="0.55" fill="#fff" stroke="#000" stroke-width="1.9"/>
<polygon points="558.2,284.4 559.8,286.8 560.6,288.6 560.6,296.2 561.5,296.6 561.5,299.6 563.5,299.6 563.5,296.6 564.4,296.2 564.4,288.6 565.2,286.8 566.8,284.4" fill="#000"/>
<polygon points="559.9,283.4 561.5,286 561.95,289.8 562.5,291 563.05,289.8 563.5,286 565.1,283.4" fill="#fff"/>
<text transform="translate(563,282.54) scale(0.94,1)" font-size="10.6" text-anchor="middle" fill="#000">CN4</text>
<rect x="441.2" y="297.9" width="28" height="14" rx="2.2" fill="#000"/>
<rect x="441.15" y="297.85" width="26.6" height="12.6" rx="1.25" fill="#fff" stroke="#000" stroke-width="1.9"/>
<polygon points="467.6,308.5 470,306.9 471.8,306.1 476.6,306.1 477,305.2 480,305.2 480,303.2 477,303.2 476.6,302.3 471.8,302.3 470,301.5 467.6,299.9" fill="#000"/>
<polygon points="466.6,306.8 469.2,305.2 473,304.75 474.2,304.2 473,303.65 469.2,303.2 466.6,301.6" fill="#fff"/>
<text transform="translate(454.45,307.94) scale(0.94,1)" font-size="10.6" text-anchor="middle" fill="#000">CN6</text>
<rect x="422.2" y="314" width="28" height="14" rx="2.2" fill="#000"/>
<rect x="422.15" y="313.95" width="26.6" height="12.6" rx="1.25" fill="#fff" stroke="#000" stroke-width="1.9"/>
<polygon points="448.6,324.9 451,323.3 452.8,322.5 457.8,322.5 458.2,321.6 461.2,321.6 461.2,319.6 458.2,319.6 457.8,318.7 452.8,318.7 451,317.9 448.6,316.3" fill="#000"/>
<polygon points="447.6,323.2 450.2,321.6 454,321.15 455.2,320.6 454,320.05 450.2,319.6 447.6,318" fill="#fff"/>
<text transform="translate(435.45,324.04) scale(0.94,1)" font-size="10.6" text-anchor="middle" fill="#000">CN7</text>
<rect x="595.4" y="284.1" width="27.2" height="13.6" rx="2" fill="#000"/>
<rect x="595.35" y="284.05" width="25.8" height="12.2" rx="1.05" fill="#fff" stroke="#000" stroke-width="1.9"/>
<polygon points="595.56,294.78 593.94,297.17 588.2,302.31 589.8,304.09 595.54,298.96 598.09,297.62" fill="#000"/>
<polygon points="597.19,294.66 593.99,298.73 598.39,296" fill="#fff"/>
<text transform="translate(608.25,293.94) scale(0.94,1)" font-size="10.6" text-anchor="middle" fill="#000">CN3</text>
<rect x="664.2" y="270.2" width="27.6" height="13.4" rx="2.2" fill="#000"/>
<rect x="664.15" y="270.15" width="26.2" height="12" rx="1.25" fill="#fff" stroke="#000" stroke-width="1.9"/>
<polygon points="664.8,272.3 662.4,273.9 660.6,274.7 655,274.7 654.6,275.6 651.6,275.6 651.6,277.6 654.6,277.6 655,278.5 660.6,278.5 662.4,279.3 664.8,280.9" fill="#000"/>
<polygon points="665.8,274 663.2,275.6 659.4,276.05 658.2,276.6 659.4,277.15 663.2,277.6 665.8,279.2" fill="#fff"/>
<text transform="translate(677.25,279.94) scale(0.94,1)" font-size="10.6" text-anchor="middle" fill="#000">CN2</text>
<rect x="660.8" y="303.2" width="28.6" height="14.4" rx="2.2" fill="#000"/>
<rect x="660.75" y="303.15" width="27.2" height="13" rx="1.25" fill="#fff" stroke="#000" stroke-width="1.9"/>
<polygon points="661.4,305.5 659,307.1 657.2,307.9 652.4,307.9 652,308.8 649,308.8 649,310.8 652,310.8 652.4,311.7 657.2,311.7 659,312.5 661.4,314.1" fill="#000"/>
<polygon points="662.4,307.2 659.8,308.8 656,309.25 654.8,309.8 656,310.35 659.8,310.8 662.4,312.4" fill="#fff"/>
<text transform="translate(674.35,313.44) scale(0.94,1)" font-size="10.6" text-anchor="middle" fill="#000">CN1</text>
<rect x="552.3" y="339.9" width="23" height="10.8" rx="0.3" fill="#fff" stroke="#000" stroke-width="1"/>
<polygon points="567.5,340.8 565.9,338.4 565.1,336.6 565.1,329.2 564.2,328.8 564.2,325.8 562.2,325.8 562.2,328.8 561.3,329.2 561.3,336.6 560.5,338.4 558.9,340.8" fill="#000"/>
<polygon points="565.8,341.8 564.2,339.2 563.75,335.4 563.2,334.2 562.65,335.4 562.2,339.2 560.6,341.8" fill="#fff"/>
<text transform="translate(563.8,349.09) scale(0.94,1)" font-size="10.6" text-anchor="middle" fill="#000">CN5</text>
<rect x="297" y="402.2" width="27.3" height="14.8" rx="2.2" fill="#000"/>
<rect x="296.95" y="402.15" width="25.9" height="13.4" rx="1.25" fill="#fff" stroke="#000" stroke-width="1.9"/>
<polygon points="323.16,404.34 324.6,401.84 328.66,397.63 326.94,395.97 322.87,400.17 320.43,401.7" fill="#000"/>
<polygon points="321.54,404.58 324.32,400.4 320.24,403.32" fill="#fff"/>
<text transform="translate(309.9,412.64) scale(0.94,1)" font-size="10.6" text-anchor="middle" fill="#000">CN9</text>
<rect x="332.2" y="410.3" width="27.1" height="13.6" rx="2.2" fill="#000"/>
<rect x="332.15" y="410.25" width="25.7" height="12.2" rx="1.25" fill="#fff" stroke="#000" stroke-width="1.9"/>
<polygon points="349.3,410.8 347.7,408.4 346.9,406.6 346.9,400.2 346,399.8 346,396.8 344,396.8 344,399.8 343.1,400.2 343.1,406.6 342.3,408.4 340.7,410.8" fill="#000"/>
<polygon points="347.6,411.8 346,409.2 345.55,405.4 345,404.2 344.45,405.4 344,409.2 342.4,411.8" fill="#fff"/>
<text transform="translate(345,420.14) scale(0.94,1)" font-size="10.6" text-anchor="middle" fill="#000">CN8</text>
<rect x="457" y="334" width="46.8" height="13.6" rx="3.5" fill="#000"/>
<rect x="456.95" y="333.95" width="45.4" height="12.2" rx="2.55" fill="#fff" stroke="#000" stroke-width="1.9"/>
<text transform="translate(480.25,343.14) scale(0.94,1)" font-size="10.6" text-anchor="middle" fill="#000" textLength="43" lengthAdjust="spacing">BANK 0</text>
<rect x="457" y="348.5" width="46.8" height="13.6" rx="3.5" fill="#000"/>
<rect x="456.95" y="348.45" width="45.4" height="12.2" rx="2.55" fill="#fff" stroke="#000" stroke-width="1.9"/>
<text transform="translate(480.25,357.64) scale(0.94,1)" font-size="10.6" text-anchor="middle" fill="#000" textLength="43" lengthAdjust="spacing">BANK 1</text>
<rect x="457" y="363.2" width="46.8" height="13.6" rx="3.5" fill="#000"/>
<rect x="456.95" y="363.15" width="45.4" height="12.2" rx="2.55" fill="#fff" stroke="#000" stroke-width="1.9"/>
<text transform="translate(480.25,372.34) scale(0.94,1)" font-size="10.6" text-anchor="middle" fill="#000" textLength="43" lengthAdjust="spacing">BANK 0</text>
<rect x="457" y="377.8" width="46.8" height="13.6" rx="3.5" fill="#000"/>
<rect x="456.95" y="377.75" width="45.4" height="12.2" rx="2.55" fill="#fff" stroke="#000" stroke-width="1.9"/>
<text transform="translate(480.25,386.94) scale(0.94,1)" font-size="10.6" text-anchor="middle" fill="#000" textLength="43" lengthAdjust="spacing">BANK 1</text>
<text transform="translate(507.6,161.4) scale(0.94,1)" font-size="10.6" text-anchor="middle" fill="#000">PC4</text>
<text transform="translate(507.6,196.9) scale(0.94,1)" font-size="10.6" text-anchor="middle" fill="#000">PC3</text>
<text transform="translate(507.6,232.4) scale(0.94,1)" font-size="10.6" text-anchor="middle" fill="#000">PC2</text>
<text transform="translate(507.6,267.9) scale(0.94,1)" font-size="10.6" text-anchor="middle" fill="#000">PC1</text>
<text transform="translate(161.2,185.6) scale(0.94,1)" font-size="10.6" text-anchor="middle" fill="#000">SL1</text>
<text transform="translate(474.5,128.6) scale(0.94,1)" font-size="10" text-anchor="middle" fill="#000" letter-spacing="0.4">BIOS</text>
<text transform="translate(518,36.8) scale(0.94,1)" font-size="9.33" text-anchor="start" fill="#000">M3254</text>
</svg>
</body></html>
